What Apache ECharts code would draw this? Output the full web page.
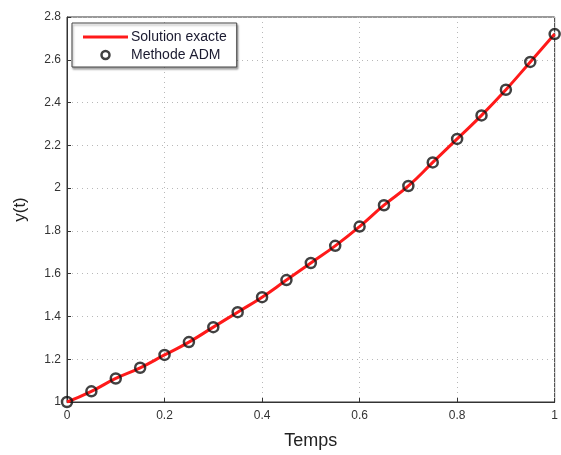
<!DOCTYPE html>
<html>
<head>
<meta charset="utf-8">
<script src="https://cdn.jsdelivr.net/npm/echarts@6/dist/echarts.min.js"></script>
<style>
  html, body { margin: 0; padding: 0; background: #fff; }
  #chart { width: 561px; height: 455px; }
</style>
</head>
<body>
<div id="chart"></div>
<script>
// temps (x) et valeurs
var temps = [0, 0.05, 0.1, 0.15, 0.2, 0.25, 0.3, 0.35, 0.4, 0.45, 0.5,
             0.55, 0.6, 0.65, 0.7, 0.75, 0.8, 0.85, 0.9, 0.95, 1];
var exacte = [1.00, 1.05, 1.11, 1.16, 1.22, 1.28, 1.35, 1.42, 1.49, 1.57, 1.65,
              1.73, 1.82, 1.92, 2.01, 2.12, 2.23, 2.34, 2.46, 2.59, 2.72];
var adm = [1.00, 1.05, 1.11, 1.16, 1.22, 1.28, 1.35, 1.42, 1.49, 1.57, 1.65,
           1.73, 1.82, 1.92, 2.01, 2.12, 2.23, 2.34, 2.46, 2.59, 2.72];
var legendNames = ['Solution exacte', 'Methode ADM'];

function pairs(xs, ys) {
    return xs.map(function (x, i) { return [x, ys[i]]; });
}

var chart = echarts.init(document.getElementById('chart'));

var gridLine = { show: true, lineStyle: { color: '#b8b8b8', type: [1, 4], width: 1 } };
var font = 'Liberation Sans';

var option = {
    animation: false,
    backgroundColor: '#fff',
    grid: { left: 67, right: 2, top: 17, bottom: 48, show: true, borderColor: '#333', borderWidth: 1 },
    legend: {
        left: 72, top: 23,
        orient: 'vertical',
        padding: [7, 10, 5, 11],
        itemGap: 4,
        itemWidth: 45, itemHeight: 8,
        backgroundColor: '#fff',
        borderColor: '#444', borderWidth: 1,
        shadowColor: 'rgba(0,0,0,0.35)', shadowBlur: 2, shadowOffsetX: 1, shadowOffsetY: 2,
        textStyle: { fontFamily: font, fontSize: 14, color: '#1a1a30', padding: [0, 0, 0, -2] },
        data: [
            { name: legendNames[0], icon: 'path://M0,0 L45,0 L45,3 L0,3 Z',
              itemStyle: { color: '#ff1a1a', borderWidth: 0 } },
            { name: legendNames[1], icon: 'circle',
              itemStyle: { color: '#fff', borderColor: '#111', borderWidth: 2.5 } }
        ]
    },
    xAxis: {
        type: 'value', min: 0, max: 1, interval: 0.2,
        name: 'Temps', nameLocation: 'middle', nameGap: 30,
        nameTextStyle: { fontFamily: font, fontSize: 18, color: '#222' },
        axisLine: { lineStyle: { color: '#333' } },
        axisTick: { inside: true, length: 4, lineStyle: { color: '#333' } },
        axisLabel: { fontFamily: font, fontSize: 12, color: '#333', margin: 8 },
        splitLine: gridLine
    },
    yAxis: {
        type: 'value', min: 1, max: 2.8, interval: 0.2,
        name: 'y(t)', nameLocation: 'middle', nameGap: 38,
        nameTextStyle: { fontFamily: font, fontSize: 17, color: '#222' },
        axisLine: { show: true, lineStyle: { color: '#333' } },
        axisTick: { show: true, inside: true, length: 4, lineStyle: { color: '#333' } },
        axisLabel: { fontFamily: font, fontSize: 12, color: '#333', margin: 6,
            formatter: function (v) { return String(Math.round(v * 10) / 10); } },
        splitLine: gridLine
    },
    series: [
        {
            name: legendNames[0],
            type: 'line',
            data: pairs(temps, exacte),
            smooth: true,
            symbol: 'none',
            lineStyle: { color: '#ff1a1a', width: 3 },
            itemStyle: { color: '#ff1a1a' },
            z: 2
        },
        {
            name: legendNames[1],
            type: 'scatter',
            data: pairs(temps, adm),
            symbol: 'circle',
            symbolSize: 10,
            itemStyle: { color: 'rgba(0,0,0,0)', borderColor: '#111', borderWidth: 2.5 },
            z: 3
        }
    ]
};

chart.setOption(option);
</script>
</body>
</html>
